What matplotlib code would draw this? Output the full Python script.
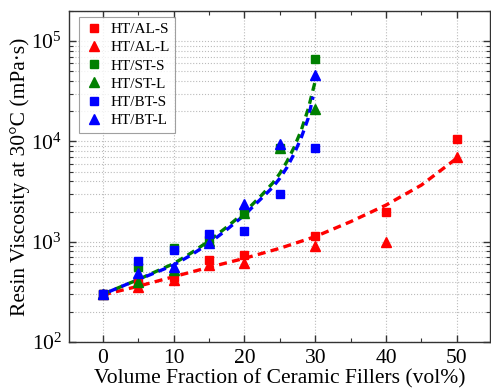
import numpy as np
import matplotlib
matplotlib.use('Agg')
import matplotlib.pyplot as plt
from matplotlib.ticker import LogLocator, LogFormatterMathtext, MultipleLocator, NullFormatter

plt.rcParams['font.family'] = 'Liberation Serif'
plt.rcParams['mathtext.fontset'] = 'stix'

# Measured viscosities (mPa.s) vs filler fraction (vol%)
al_s_x = [0, 5, 10, 15, 20, 30, 40, 50]
al_s_y = [300, 385, 445, 655, 735, 1140, 1980, 10700]
al_l_x = [0, 5, 10, 15, 20, 30, 40, 50]
al_l_y = [300, 355, 415, 590, 615, 900, 1000, 7000]
st_s_x = [0, 5, 10, 15, 20, 25, 30]
st_s_y = [300, 565, 870, 1050, 1990, 8600, 66000]
st_l_x = [0, 5, 10, 15, 20, 25, 30]
st_l_y = [300, 400, 520, 1020, 1920, 8700, 21000]
bt_s_x = [0, 5, 10, 15, 20, 25, 30]
bt_s_y = [300, 640, 826, 1190, 1280, 2990, 8650]
bt_l_x = [0, 5, 10, 15, 20, 25, 30]
bt_l_y = [300, 490, 565, 980, 2400, 9500, 46000]

# Fitted trend lines
al_fit_x = [0, 5, 10, 15, 20, 25, 30, 35, 40, 45, 50]
al_fit_y = [295, 360, 448, 556, 683, 860, 1125, 1585, 2320, 3670, 6800]
st_fit_x = [0, 2.5, 5, 7.5, 10, 12.5, 15, 17.5, 20, 22.5, 24, 25, 26, 27, 28, 29, 30]
st_fit_y = [300, 355, 420, 505, 605, 775, 1020, 1400, 1960, 2950, 3850, 4800, 6300, 8700, 12800, 21000, 40000]
bt_fit_x = [0, 2.5, 5, 7.5, 10, 12.5, 15, 17.5, 20, 22.5, 24, 25, 26, 27, 28, 29, 29.7]
bt_fit_y = [300, 355, 420, 495, 585, 740, 965, 1320, 1850, 2750, 3500, 4300, 5500, 7500, 10800, 17000, 28000]

fig = plt.figure(figsize=(4.91, 3.89), dpi=100)
ax = fig.add_axes([69/491, 1-342/389, (490-69)/491, (342-11)/389])

ax.plot(al_fit_x, al_fit_y, color='red', lw=2.4, ls=(0, (2.4, 1.6)), zorder=2)
ax.plot(st_fit_x, st_fit_y, color='green', lw=2.4, ls=(0, (2.4, 1.6)), zorder=2)
ax.plot(bt_fit_x, bt_fit_y, color='blue', lw=2.4, ls=(2.0, (2.4, 1.6)), zorder=2)

ax.plot(al_s_x, al_s_y, 's', color='red', ms=5.5, label='HT/AL-S', zorder=3)
ax.plot(al_l_x, al_l_y, '^', color='red', ms=7, label='HT/AL-L', zorder=3)
ax.plot(st_s_x, st_s_y, 's', color='green', ms=5.5, label='HT/ST-S', zorder=3)
ax.plot(st_l_x, st_l_y, '^', color='green', ms=7, label='HT/ST-L', zorder=3)
ax.plot(bt_s_x, bt_s_y, 's', color='blue', ms=5.5, label='HT/BT-S', zorder=3)
ax.plot(bt_l_x, bt_l_y, '^', color='blue', ms=7, label='HT/BT-L', zorder=3)

ax.set_yscale('log')
ax.set_xlim(-4.8, 54.7)
ax.set_ylim(100, 2e5)
ax.xaxis.set_major_locator(MultipleLocator(10))
ax.xaxis.set_minor_locator(MultipleLocator(5))
ax.yaxis.set_major_locator(LogLocator(base=10))
ax.yaxis.set_minor_locator(LogLocator(base=10, subs=np.arange(2, 10)))
ax.yaxis.set_major_formatter(LogFormatterMathtext())
ax.yaxis.set_minor_formatter(NullFormatter())

ax.grid(True, which='major', axis='x', ls=':', color='#bbbbbb', lw=0.8)
ax.grid(True, which='both', axis='y', ls=':', color='#bbbbbb', lw=0.8)
ax.set_axisbelow(True)

ax.tick_params(which='both', direction='in', top=True, right=True, labelsize=15.5, colors='#333333')
ax.tick_params(which='major', length=5, width=1)
ax.tick_params(which='minor', length=3, width=0.8)
ax.tick_params(axis='both', labelcolor='black', pad=5)
for s in ax.spines.values():
    s.set_color('#333333')
    s.set_linewidth(1)

ax.set_xlabel('Volume Fraction of Ceramic Fillers (vol%)', fontsize=15.5, labelpad=1)
ax.set_ylabel('Resin Viscosity at 30°C (mPa·s)', fontsize=15.5, labelpad=1)

leg = ax.legend(loc='upper left', fontsize=11, frameon=True, fancybox=False,
                edgecolor='#888888', handlelength=1.2, handletextpad=0.5,
                labelspacing=0.3, borderpad=0.35, borderaxespad=0,
                bbox_to_anchor=(0.024, 0.982))
leg.get_frame().set_linewidth(0.8)

fig.savefig('out.png', dpi=100)
